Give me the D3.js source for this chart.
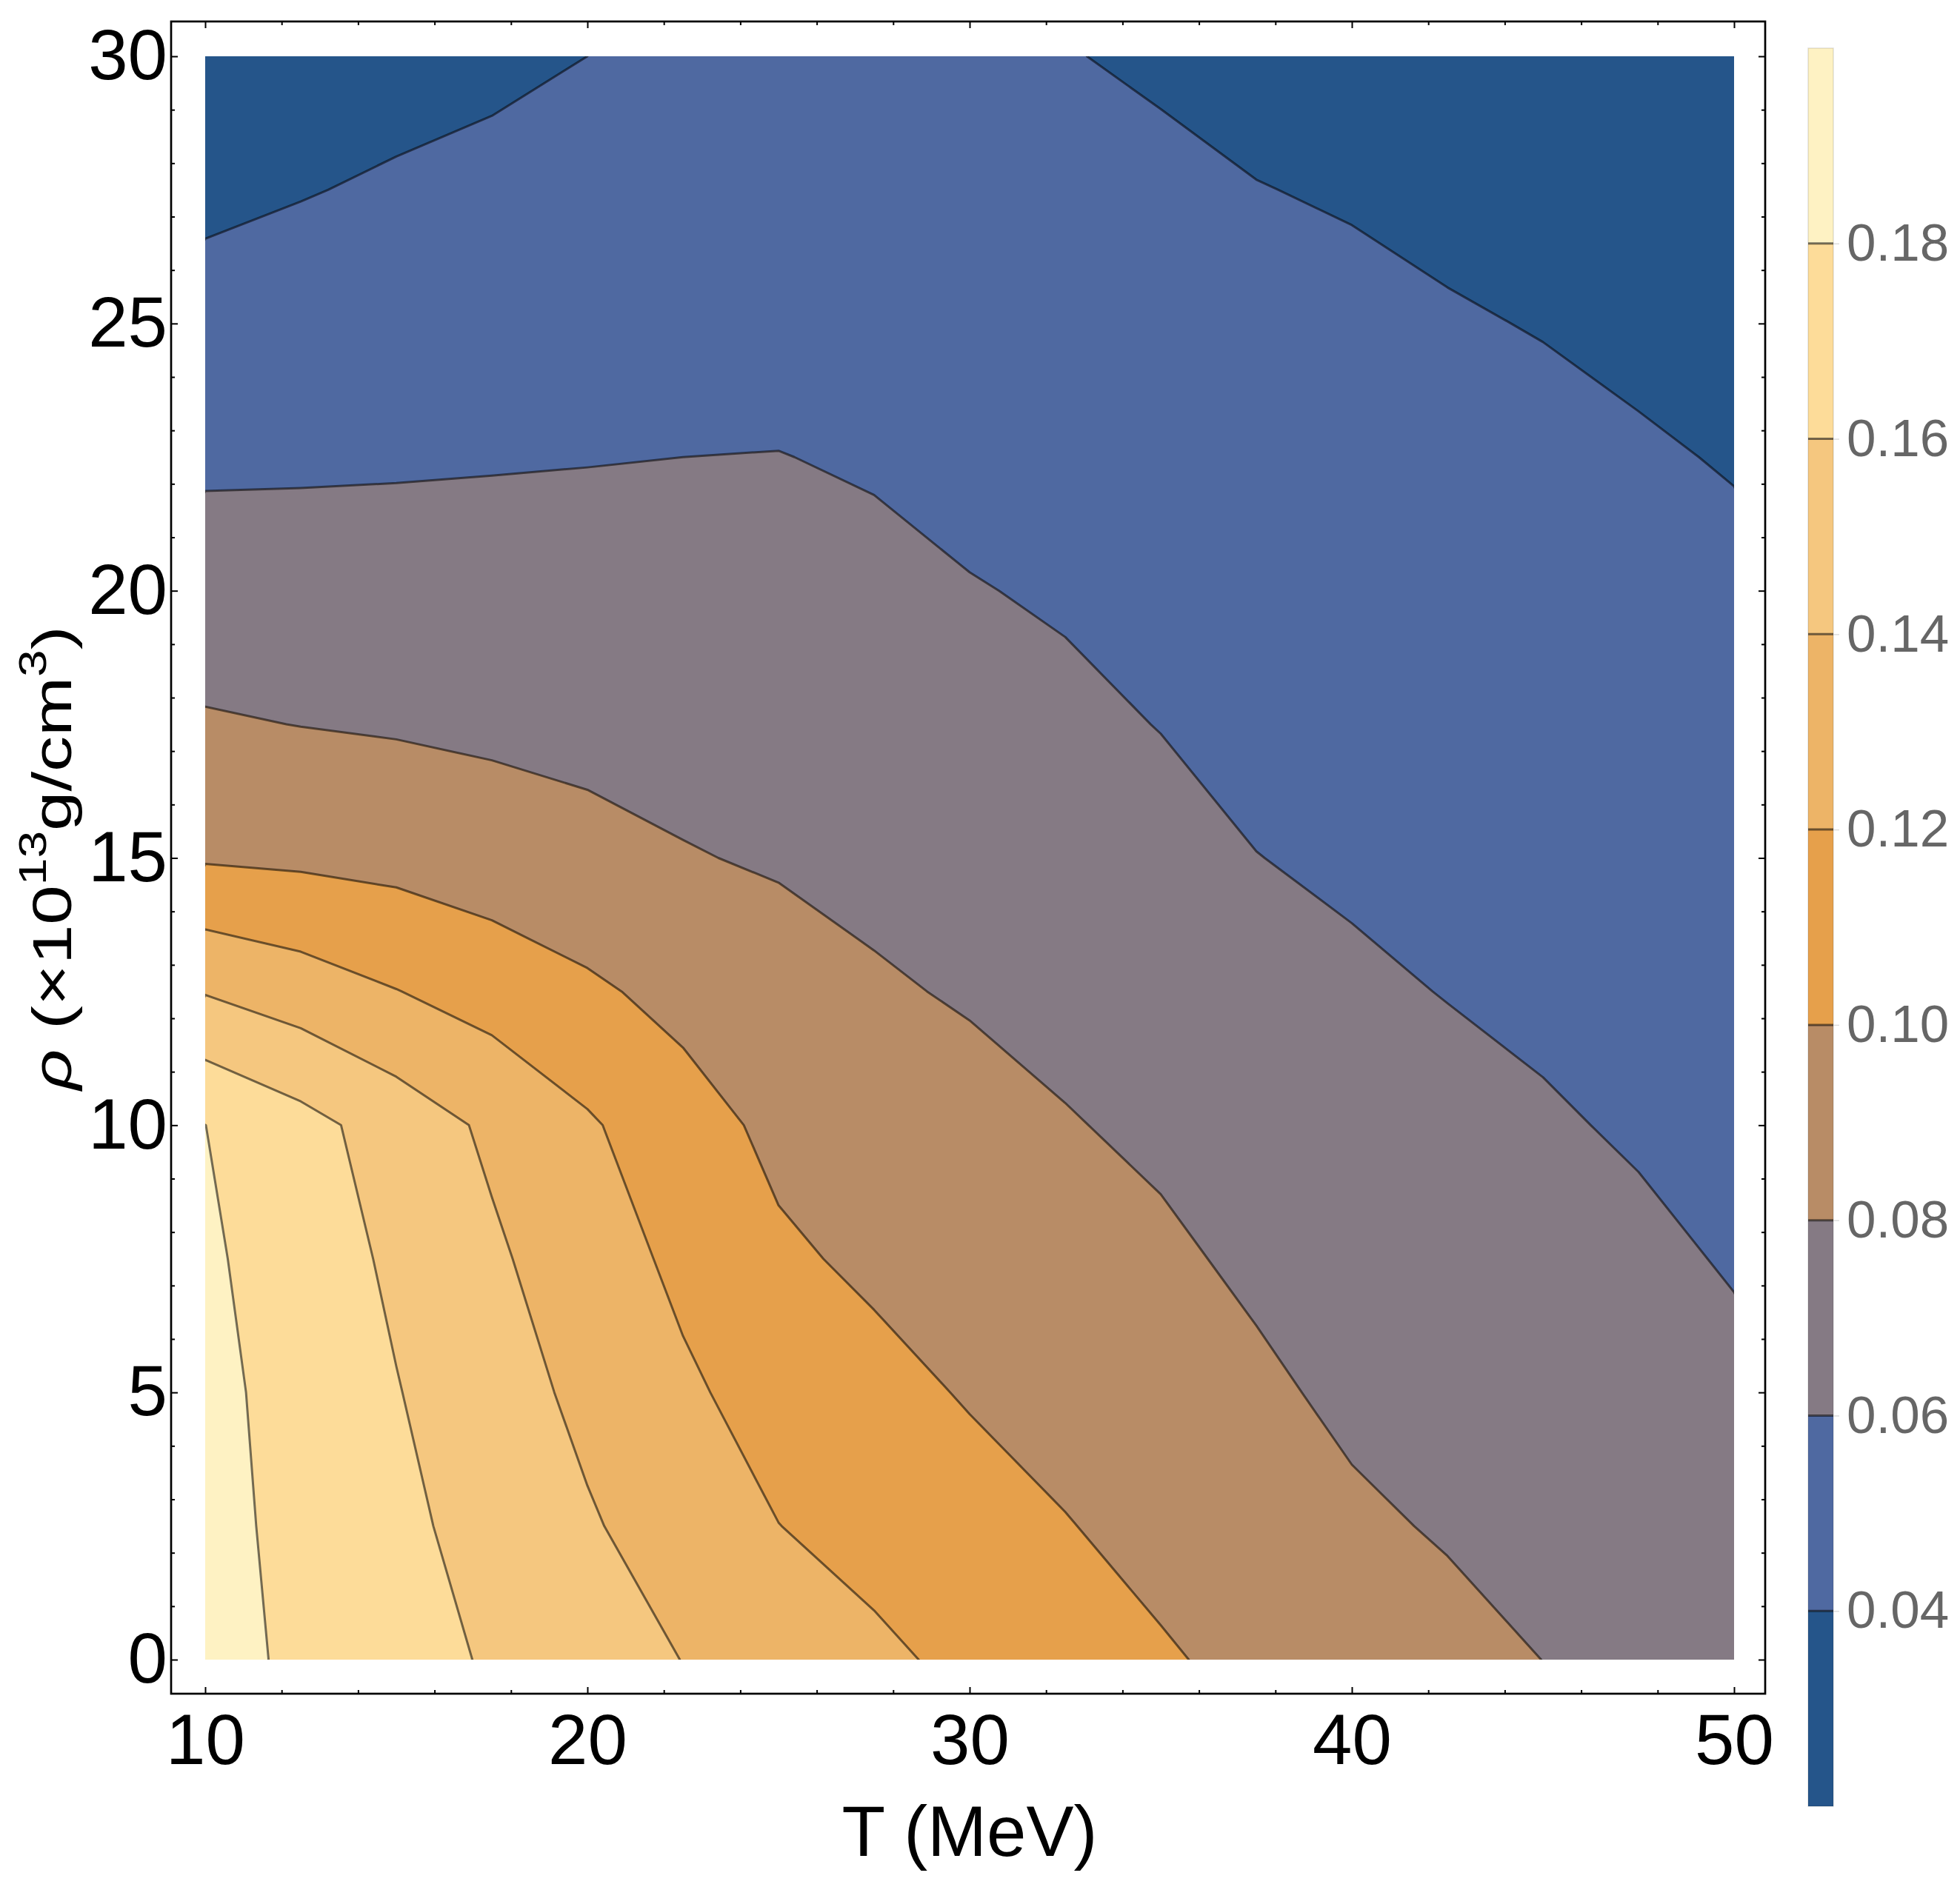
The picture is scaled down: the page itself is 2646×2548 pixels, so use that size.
<!DOCTYPE html>
<html lang="en">
<head>
<meta charset="utf-8">
<title>Contour T - rho</title>
<script src="https://cdn.jsdelivr.net/npm/d3@7"></script>
<style>
  body { margin: 0; background: #fff; }
  text { font-family: "Liberation Sans", Arial, sans-serif; }
</style>
</head>
<body>
<script>
// grid columns: T (MeV)
var tGrid = [10, 12.5, 15, 17.5, 20, 22.5, 25, 27.5, 30, 32.5, 35, 37.5, 40, 42.5, 45, 47.5, 50];
// grid rows: rho (x10^13 g/cm^3)
var rhoGrid = [0, 2.5, 5, 7.5, 10, 12.5, 15, 17.5, 20, 22.5, 25, 27.5, 30];
// values, one row per rho, left to right in T
var zRows = [
  [0.1865, 0.1767, 0.1674, 0.1581, 0.1489, 0.1397, 0.1316, 0.1235, 0.1160, 0.1089, 0.1017, 0.0959, 0.0906, 0.0852, 0.0799, 0.0755, 0.0715], // 0
  [0.1855, 0.1752, 0.1643, 0.1532, 0.1419, 0.1311, 0.1202, 0.1140, 0.1072, 0.1007, 0.0951, 0.0890, 0.0828, 0.0785, 0.0754, 0.0712, 0.0672], // 2.5
  [0.1850, 0.1733, 0.1608, 0.1483, 0.1356, 0.1230, 0.1125, 0.1055, 0.0986, 0.0941, 0.0891, 0.0830, 0.0767, 0.0737, 0.0707, 0.0669, 0.0630], // 5
  [0.1830, 0.1703, 0.1567, 0.1430, 0.1292, 0.1159, 0.1030, 0.0966, 0.0918, 0.0875, 0.0829, 0.0770, 0.0719, 0.0690, 0.0661, 0.0626, 0.0590], // 7.5
  [0.1801, 0.1665, 0.1511, 0.1365, 0.1223, 0.1079, 0.0955, 0.0905, 0.0858, 0.0810, 0.0769, 0.0714, 0.0670, 0.0642, 0.0614, 0.0586, 0.0557], // 10
  [0.1390, 0.1300, 0.1205, 0.1120, 0.1032, 0.0943, 0.0875, 0.0820, 0.0784, 0.0750, 0.0711, 0.0658, 0.0622, 0.0596, 0.0575, 0.0552, 0.0524], // 12.5
  [0.0982, 0.0965, 0.0942, 0.0895, 0.0850, 0.0810, 0.0783, 0.0755, 0.0725, 0.0692, 0.0653, 0.0602, 0.0579, 0.0558, 0.0539, 0.0517, 0.0491], // 15
  [0.0817, 0.0797, 0.0782, 0.0765, 0.0752, 0.0736, 0.0723, 0.0696, 0.0666, 0.0634, 0.0596, 0.0562, 0.0542, 0.0521, 0.0503, 0.0482, 0.0458], // 17.5
  [0.0688, 0.0683, 0.0679, 0.0675, 0.0672, 0.0667, 0.0662, 0.0638, 0.0608, 0.0582, 0.0554, 0.0522, 0.0504, 0.0484, 0.0467, 0.0447, 0.0425], // 20
  [0.0570, 0.0575, 0.0581, 0.0588, 0.0594, 0.0600, 0.0603, 0.0585, 0.0550, 0.0541, 0.0511, 0.0483, 0.0466, 0.0447, 0.0431, 0.0412, 0.0393], // 22.5
  [0.0466, 0.0484, 0.0500, 0.0514, 0.0529, 0.0530, 0.0540, 0.0535, 0.0500, 0.0500, 0.0469, 0.0443, 0.0428, 0.0410, 0.0395, 0.0377, 0.0360], // 25
  [0.0362, 0.0392, 0.0420, 0.0441, 0.0465, 0.0480, 0.0490, 0.0490, 0.0460, 0.0458, 0.0426, 0.0403, 0.0390, 0.0373, 0.0359, 0.0342, 0.0327], // 27.5
  [0.0258, 0.0301, 0.0340, 0.0367, 0.0400, 0.0430, 0.0450, 0.0445, 0.0425, 0.0405, 0.0383, 0.0364, 0.0352, 0.0336, 0.0323, 0.0308, 0.0294]  // 30
];
// contour levels and band colours (band i = [0.02+0.02i, 0.04+0.02i])
var levels = [0.04, 0.06, 0.08, 0.10, 0.12, 0.14, 0.16, 0.18];
var bandColors = ["#25558a", "#4f69a1", "#857a84", "#b88c66", "#e6a04b", "#edb467", "#f5c77f", "#fddc99", "#fef2c3"];
var xMajor = [10, 20, 30, 40, 50];
var xMinor = [12, 14, 16, 18, 22, 24, 26, 28, 32, 34, 36, 38, 42, 44, 46, 48];
var yMajor = [0, 5, 10, 15, 20, 25, 30];
var yMinor = [1, 2, 3, 4, 6, 7, 8, 9, 11, 12, 13, 14, 16, 17, 18, 19, 21, 22, 23, 24, 26, 27, 28, 29];

var width = 2646, height = 2548;
var frame = {left: 231, right: 2383, top: 29, bottom: 2287};

var svg = d3.select("body").append("svg")
    .attr("width", width)
    .attr("height", height);

var x = d3.scaleLinear().domain([10, 50]).range([277, 2341]);
var y = d3.scaleLinear().domain([0, 30]).range([2241, 76]);

// grid coords from d3.contours -> data coords
var nx = tGrid.length, ny = rhoGrid.length;
var gx = d3.scaleLinear().domain([0.5, nx - 0.5]).range([tGrid[0], tGrid[nx - 1]]);
var gy = d3.scaleLinear().domain([0.5, ny - 0.5]).range([rhoGrid[0], rhoGrid[ny - 1]]);
var path = d3.geoPath(d3.geoTransform({
    point: function (px, py) {
        this.stream.point(x(gx(px)), y(gy(py)));
    }
}));

var values = [].concat.apply([], zRows);
var contours = d3.contours().size([nx, ny]).thresholds(levels)(values);

svg.append("clipPath").attr("id", "plotclip")
    .append("rect")
    .attr("x", x(10)).attr("y", y(30))
    .attr("width", x(50) - x(10)).attr("height", y(0) - y(30));

var plot = svg.append("g").attr("clip-path", "url(#plotclip)");

plot.append("rect")
    .attr("x", x(10)).attr("y", y(30))
    .attr("width", x(50) - x(10)).attr("height", y(0) - y(30))
    .attr("fill", bandColors[0]);

plot.selectAll("path.band")
    .data(contours)
    .enter().append("path")
    .attr("class", "band")
    .attr("d", path)
    .attr("fill", function (d, i) { return bandColors[i + 1]; })
    .attr("stroke", function (d, i) { return bandColors[i + 1]; })
    .attr("stroke-width", 0.8);

plot.selectAll("path.iso")
    .data(contours)
    .enter().append("path")
    .attr("class", "iso")
    .attr("d", path)
    .attr("fill", "none")
    .attr("stroke", "#000")
    .attr("stroke-opacity", 0.55)
    .attr("stroke-width", 3)
    .attr("stroke-linejoin", "round");

// frame
svg.append("rect")
    .attr("x", frame.left).attr("y", frame.top)
    .attr("width", frame.right - frame.left).attr("height", frame.bottom - frame.top)
    .attr("fill", "none").attr("stroke", "#000").attr("stroke-width", 2.7);

function styleAxis(g, size, color) {
    g.select(".domain").remove();
    g.attr("font-family", null).attr("font-size", size);
    g.selectAll(".tick line").attr("stroke", "#000").attr("stroke-width", 2);
    g.selectAll(".tick text").attr("fill", color);
}

// bottom axis with labels
svg.append("g").attr("transform", "translate(0," + frame.bottom + ")")
    .call(d3.axisBottom(x).tickValues(xMajor).tickSize(-9).tickPadding(27).tickFormat(d3.format("d")))
    .call(styleAxis, 96, "#000");
svg.append("g").attr("transform", "translate(0," + frame.bottom + ")")
    .call(d3.axisBottom(x).tickValues(xMinor).tickSize(-5).tickFormat(""))
    .call(styleAxis, 96, "#000");
// top axis
svg.append("g").attr("transform", "translate(0," + frame.top + ")")
    .call(d3.axisTop(x).tickValues(xMajor).tickSize(-9).tickFormat(""))
    .call(styleAxis, 96, "#000");
svg.append("g").attr("transform", "translate(0," + frame.top + ")")
    .call(d3.axisTop(x).tickValues(xMinor).tickSize(-5).tickFormat(""))
    .call(styleAxis, 96, "#000");
// left axis with labels
svg.append("g").attr("transform", "translate(" + frame.left + ",0)")
    .call(d3.axisLeft(y).tickValues(yMajor).tickSize(-9).tickPadding(5).tickFormat(d3.format("d")))
    .call(styleAxis, 96, "#000");
svg.append("g").attr("transform", "translate(" + frame.left + ",0)")
    .call(d3.axisLeft(y).tickValues(yMinor).tickSize(-5).tickFormat(""))
    .call(styleAxis, 96, "#000");
// right axis
svg.append("g").attr("transform", "translate(" + frame.right + ",0)")
    .call(d3.axisRight(y).tickValues(yMajor).tickSize(-9).tickFormat(""))
    .call(styleAxis, 96, "#000");
svg.append("g").attr("transform", "translate(" + frame.right + ",0)")
    .call(d3.axisRight(y).tickValues(yMinor).tickSize(-5).tickFormat(""))
    .call(styleAxis, 96, "#000");

// axis titles
svg.append("text")
    .attr("x", (x(10) + x(50)) / 2).attr("y", 2506)
    .attr("text-anchor", "middle")
    .attr("font-size", 96)
    .text("T (MeV)");

var yLab = svg.append("text")
    .attr("transform", "translate(96," + ((y(0) + y(30)) / 2) + ") rotate(-90) scale(1,0.78)")
    .attr("text-anchor", "middle")
    .attr("font-size", 96);
yLab.append("tspan").attr("font-style", "italic").text("\u03c1");
yLab.append("tspan").text(" (\u00d710");
yLab.append("tspan").attr("font-size", 66).attr("dy", -44).text("13");
yLab.append("tspan").attr("dy", 44).text("g/cm");
yLab.append("tspan").attr("font-size", 66).attr("dy", -44).text("3");
yLab.append("tspan").attr("dy", 44).text(")");

// colour bar
var bar = {x: 2441, w: 34};
var yc = d3.scaleLinear().domain([0.02, 0.20]).range([2439, 65]);
var bandEdges = d3.range(bandColors.length + 1).map(function (i) { return 0.02 + 0.02 * i; });

svg.append("g").selectAll("rect")
    .data(bandColors)
    .enter().append("rect")
    .attr("x", bar.x)
    .attr("width", bar.w)
    .attr("y", function (d, i) { return yc(bandEdges[i + 1]); })
    .attr("height", function (d, i) { return yc(bandEdges[i]) - yc(bandEdges[i + 1]); })
    .attr("fill", function (d) { return d; });

svg.append("g").selectAll("line")
    .data(levels)
    .enter().append("line")
    .attr("x1", bar.x).attr("x2", bar.x + bar.w)
    .attr("y1", function (d) { return yc(d); })
    .attr("y2", function (d) { return yc(d); })
    .attr("stroke", "#000").attr("stroke-opacity", 0.55).attr("stroke-width", 3);

svg.append("rect")
    .attr("x", bar.x).attr("y", yc(0.20))
    .attr("width", bar.w).attr("height", yc(0.02) - yc(0.20))
    .attr("fill", "none").attr("stroke", "#000").attr("stroke-opacity", 0.12).attr("stroke-width", 1.5);

svg.append("g").attr("transform", "translate(" + (bar.x + bar.w) + ",0)")
    .call(d3.axisRight(yc).tickValues(levels).tickSize(8).tickPadding(10).tickFormat(d3.format(".2f")))
    .call(function (g) {
        g.select(".domain").remove();
        g.attr("font-family", null).attr("font-size", 71);
        g.selectAll(".tick line").attr("stroke", "#ddd").attr("stroke-width", 1.5);
        g.selectAll(".tick text").attr("fill", "#666");
    });
</script>
</body>
</html>
